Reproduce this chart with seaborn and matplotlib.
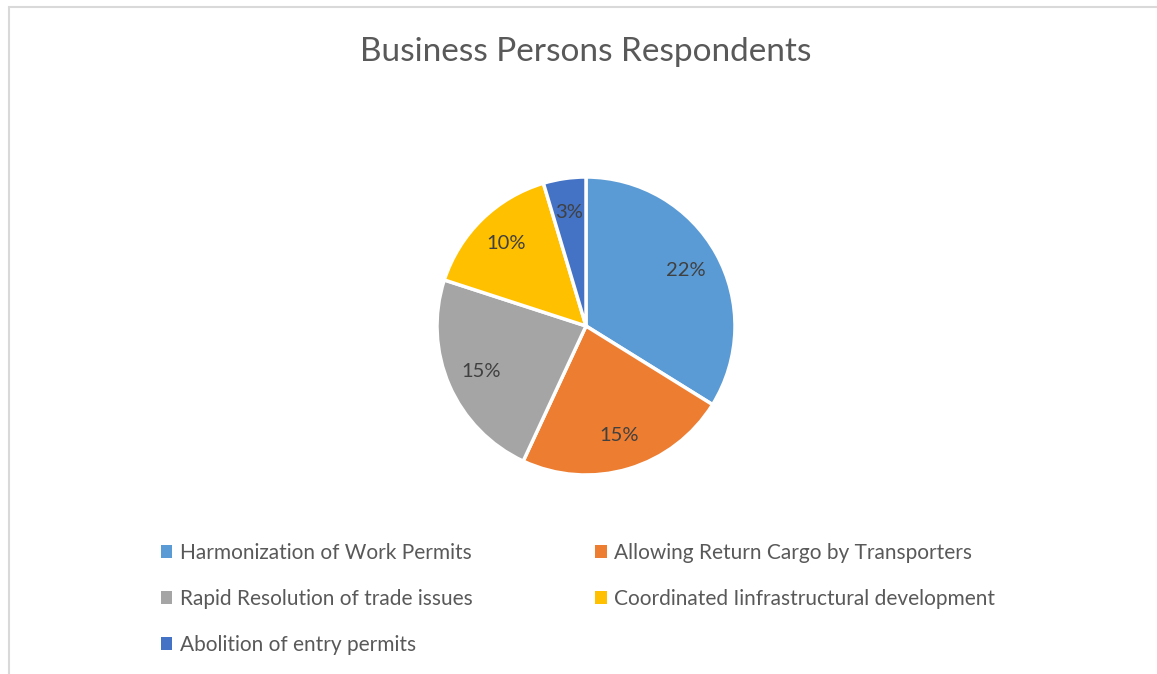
import matplotlib
matplotlib.use('Agg')
import matplotlib.pyplot as plt
import seaborn as sns
from matplotlib.patches import Patch
from matplotlib.lines import Line2D

sns.set_theme(style="white")
plt.rcParams['font.family'] = ['Lato', 'DejaVu Sans']

categories = ["Harmonization of Work Permits", "Allowing Return Cargo by Transporters",
              "Rapid Resolution of trade issues", "Coordinated Iinfrastructural development",
              "Abolition of entry permits"]
values = [22, 15, 15, 10, 3]
colors = ["#5B9BD5", "#ED7D31", "#A5A5A5", "#FFC000", "#4472C4"]
total = sum(values)

fig = plt.figure(figsize=(11.57, 6.74), dpi=100)
fig.patch.set_facecolor('white')

# chart border (only top and left visible in the crop)
fig.add_artist(Line2D([9 / 1157, 1], [1 - 7 / 674, 1 - 7 / 674], color="#D9D9D9", lw=1.5))
fig.add_artist(Line2D([9 / 1157, 9 / 1157], [0, 1 - 7 / 674], color="#D9D9D9", lw=1.5))

# pie centre ~ (586, 325), radius ~148 px
r = 149
ax = fig.add_axes([(586 - r) / 1157, 1 - (326 + r) / 674, 2 * r / 1157, 2 * r / 674])
wedges, texts, autotexts = ax.pie(
    values, colors=colors, startangle=90, counterclock=False,
    autopct=lambda p: f"{p * total / 100:.0f}%", pctdistance=0.77,
    wedgeprops=dict(edgecolor="white", linewidth=2.5),
    textprops=dict(color="#404040", fontsize=14.5))
ax.set_xlim(-1, 1)
ax.set_ylim(-1, 1)
ax.set_aspect('equal')

fig.text(586 / 1157, 1 - 52 / 674, "Business Persons Respondents", ha='center', va='center',
         fontsize=24, color="#595959")

# legend filled row by row like the original
order = [0, 2, 4, 1, 3]
handles = [Patch(facecolor=colors[i], edgecolor='none') for i in order]
labels = [categories[i] for i in order]
leg = fig.legend(handles, labels, ncol=2, loc='upper left',
                 bbox_to_anchor=(142 / 1157, 1 - 524 / 674), frameon=False,
                 fontsize=15, labelcolor="#595959", handlelength=0.55, handleheight=0.55,
                 handletextpad=0.35, columnspacing=5.9, labelspacing=1.25)

fig.savefig("out.png", dpi=100, facecolor='white')
